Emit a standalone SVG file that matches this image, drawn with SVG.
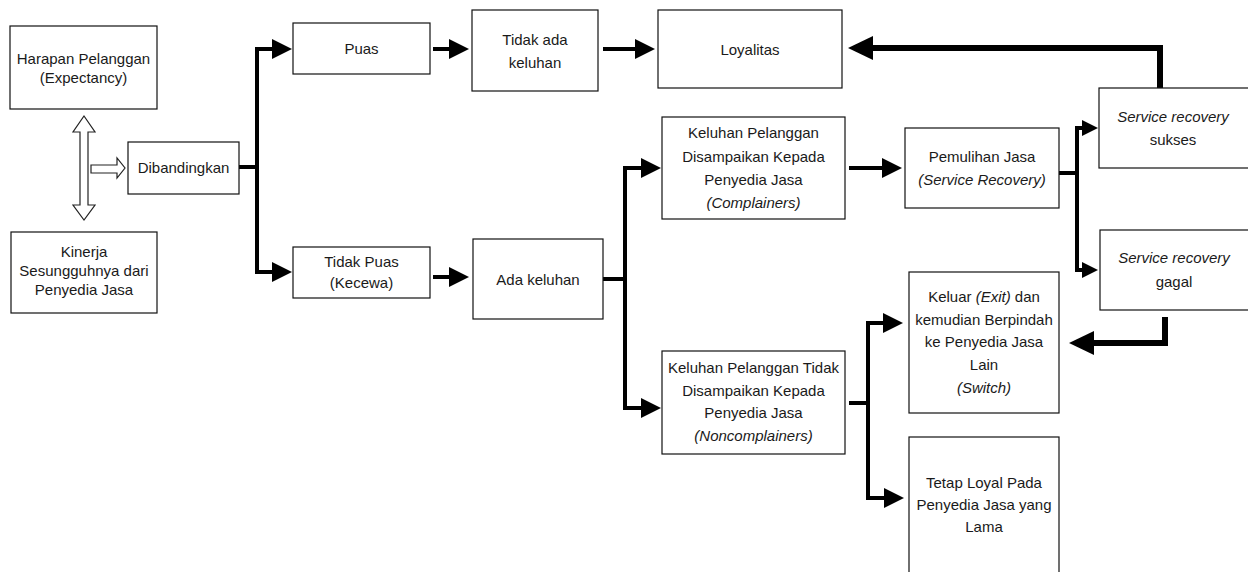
<svg xmlns="http://www.w3.org/2000/svg" width="1248" height="572" viewBox="0 0 1248 572">
<style>
.box{fill:#fff;stroke:#111;stroke-width:1.2}
text{font-family:"Liberation Sans",Arial,sans-serif;font-size:15px;fill:#1a1a1a;text-anchor:middle}
.it{font-style:italic}
.c{fill:none;stroke:#000;stroke-width:4;stroke-linejoin:miter}
.cb{fill:none;stroke:#000;stroke-width:6;stroke-linejoin:miter}
.hollow{fill:#fff;stroke:#222;stroke-width:1.2}
</style>
<defs>
<marker id="ah" markerUnits="userSpaceOnUse" markerWidth="22" markerHeight="22" refX="1" refY="10" orient="auto" overflow="visible"><path d="M0,0 L20,10 L0,20 z" fill="#000"/></marker>
<marker id="ahs" markerUnits="userSpaceOnUse" markerWidth="18" markerHeight="18" refX="1" refY="8" orient="auto" overflow="visible"><path d="M0,0 L16,8 L0,16 z" fill="#000"/></marker>
<marker id="ahb" markerUnits="userSpaceOnUse" markerWidth="26" markerHeight="26" refX="1" refY="12" orient="auto" overflow="visible"><path d="M0,0 L25,12 L0,24 z" fill="#000"/></marker>
</defs>

<g id="connectors">
<polygon class="hollow" points="84,116 95,132 88,132 88,205 95,205 84,220 73,205 80,205 80,132 73,132"/>
<polygon class="hollow" points="91,165 117,165 117,158 125,168 117,178 117,173 91,173"/>
<path class="c" d="M239,167 H257"/>
<path class="c" d="M257,169 V49 H273" marker-end="url(#ah)"/>
<path class="c" d="M257,165 V272 H273" marker-end="url(#ah)"/>
<path class="c" d="M433,49 H450" marker-end="url(#ah)"/>
<path class="c" d="M603,49 H636" marker-end="url(#ah)"/>
<path class="cb" d="M1160,88 V48 H872" marker-end="url(#ahb)"/>
<path class="c" d="M433,277 H450" marker-end="url(#ah)"/>
<path class="c" d="M603,279 H625"/>
<path class="c" d="M625,281 V168 H642" marker-end="url(#ah)"/>
<path class="c" d="M625,277 V408 H642" marker-end="url(#ah)"/>
<path class="c" d="M849,168 H883" marker-end="url(#ah)"/>
<path class="c" d="M1059,173 H1077"/>
<path class="c" d="M1077,175 V128 H1083" marker-end="url(#ahs)"/>
<path class="c" d="M1077,171 V270 H1083" marker-end="url(#ahs)"/>
<path class="cb" d="M1165,317 V343 H1093" marker-end="url(#ahb)"/>
<path class="c" d="M849,403 H868"/>
<path class="c" d="M868,405 V323 H884" marker-end="url(#ah)"/>
<path class="c" d="M868,401 V498 H885" marker-end="url(#ah)"/>
</g>

<g id="harapan">
<rect class="box" x="10" y="26" width="147" height="83"/>
<text x="83.5" y="64">Harapan Pelanggan</text>
<text x="83.5" y="83">(Expectancy)</text>
</g>
<g id="kinerja">
<rect class="box" x="11" y="232" width="146" height="81"/>
<text x="84" y="257">Kinerja</text>
<text x="84" y="276">Sesungguhnya dari</text>
<text x="84" y="295">Penyedia Jasa</text>
</g>
<g id="dibandingkan">
<rect class="box" x="128" y="142" width="111" height="52"/>
<text x="183.5" y="173">Dibandingkan</text>
</g>
<g id="puas">
<rect class="box" x="293" y="23" width="137" height="51"/>
<text x="361.5" y="54">Puas</text>
</g>
<g id="tidak-puas">
<rect class="box" x="293" y="247" width="137" height="51"/>
<text x="361.5" y="267">Tidak Puas</text>
<text x="361.5" y="288">(Kecewa)</text>
</g>
<g id="tidak-ada-keluhan">
<rect class="box" x="472" y="10" width="126" height="81"/>
<text x="535" y="45">Tidak ada</text>
<text x="535" y="68">keluhan</text>
</g>
<g id="ada-keluhan">
<rect class="box" x="473" y="239" width="130" height="80"/>
<text x="538" y="285">Ada keluhan</text>
</g>
<g id="loyalitas">
<rect class="box" x="658" y="10" width="184" height="78"/>
<text x="750" y="55">Loyalitas</text>
</g>
<g id="complainers">
<rect class="box" x="662" y="117" width="183" height="102"/>
<text x="753.5" y="138">Keluhan Pelanggan</text>
<text x="753.5" y="162">Disampaikan Kepada</text>
<text x="753.5" y="185">Penyedia Jasa</text>
<text x="753.5" y="208" class="it">(Complainers)</text>
</g>
<g id="noncomplainers">
<rect class="box" x="662" y="351" width="183" height="103"/>
<text x="753.5" y="373">Keluhan Pelanggan Tidak</text>
<text x="753.5" y="396">Disampaikan Kepada</text>
<text x="753.5" y="418">Penyedia Jasa</text>
<text x="753.5" y="441" class="it">(Noncomplainers)</text>
</g>
<g id="pemulihan">
<rect class="box" x="905" y="128" width="154" height="80"/>
<text x="982" y="162">Pemulihan Jasa</text>
<text x="982" y="185" class="it">(Service Recovery)</text>
</g>
<g id="keluar">
<rect class="box" x="909" y="272" width="150" height="141"/>
<text x="984" y="302">Keluar <tspan class="it">(Exit)</tspan> dan</text>
<text x="984" y="325">kemudian Berpindah</text>
<text x="984" y="347">ke Penyedia Jasa</text>
<text x="984" y="370">Lain</text>
<text x="984" y="393" class="it">(Switch)</text>
</g>
<g id="tetap-loyal">
<rect class="box" x="909" y="437" width="150" height="140"/>
<text x="984" y="488">Tetap Loyal Pada</text>
<text x="984" y="510">Penyedia Jasa yang</text>
<text x="984" y="532">Lama</text>
</g>
<g id="sr-sukses">
<rect class="box" x="1099" y="88" width="160" height="80"/>
<text x="1173" y="122" class="it">Service recovery</text>
<text x="1173" y="145">sukses</text>
</g>
<g id="sr-gagal">
<rect class="box" x="1100" y="230" width="160" height="80"/>
<text x="1174" y="263" class="it">Service recovery</text>
<text x="1174" y="287">gagal</text>
</g>
</svg>
